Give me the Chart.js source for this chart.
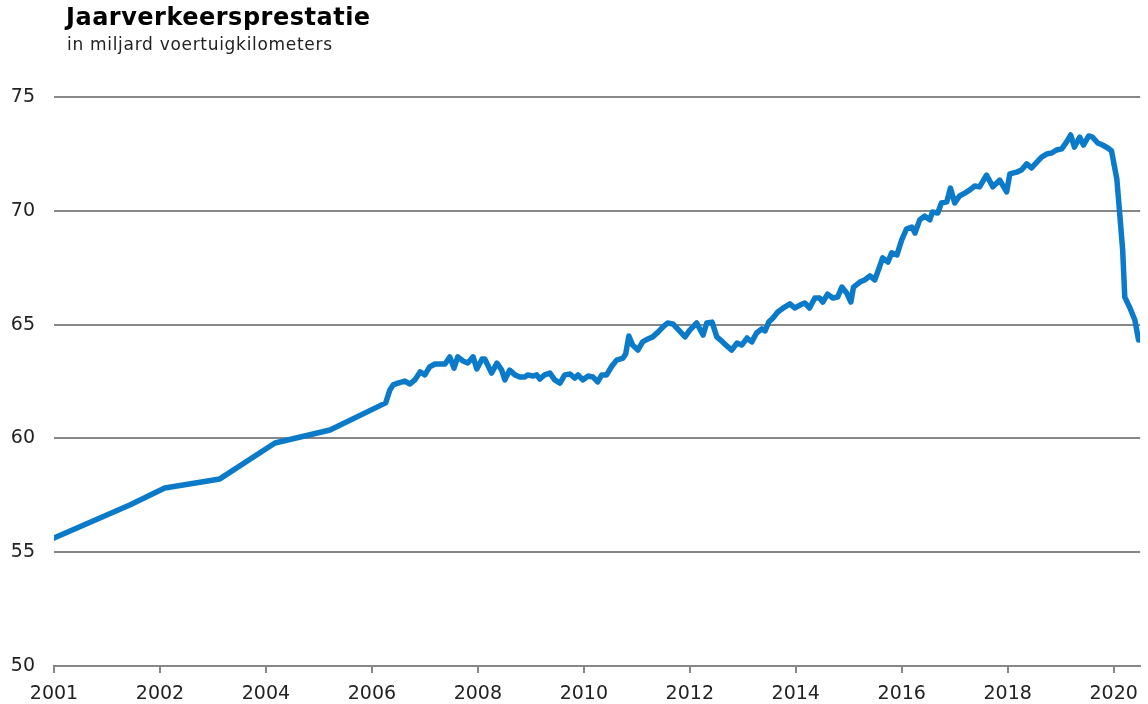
<!DOCTYPE html>
<html>
<head>
<meta charset="utf-8">
<script src="https://cdn.jsdelivr.net/npm/chart.js@4/dist/chart.umd.min.js"></script>
<style>
    body { margin: 0; background: #fff; font-family: "DejaVu Sans", Verdana, sans-serif; }
    #wrap { position: relative; width: 1148px; height: 704px; }
    #title { position: absolute; left: 66px; top: 3px; font-size: 24px; font-weight: bold; letter-spacing: 0.5px; color: #000; }
    #subtitle { position: absolute; left: 67px; top: 34px; font-size: 17px; letter-spacing: 0.7px; color: #222; }
    canvas { position: absolute; left: 0; top: 0; }
</style>
</head>
<body>
<div id="wrap">
    <canvas id="chart" width="1148" height="704"></canvas>
    <div id="title">Jaarverkeersprestatie</div>
    <div id="subtitle">in miljard voertuigkilometers</div>
</div>
<script>
// x positions (axis units, tick "2001" sits at 2000) and values in miljard km
const years = [
    2000.00, 2001.43, 2002.09, 2003.13, 2004.17, 2005.21, 2006.26, 2006.34, 2006.40, 2006.49,
    2006.62, 2006.72, 2006.81, 2006.91, 2007.00, 2007.09, 2007.19, 2007.38, 2007.47, 2007.55,
    2007.62, 2007.72, 2007.81, 2007.91, 2007.98, 2008.08, 2008.13, 2008.26, 2008.36, 2008.45,
    2008.51, 2008.60, 2008.70, 2008.79, 2008.89, 2008.94, 2009.04, 2009.11, 2009.17, 2009.26,
    2009.36, 2009.45, 2009.55, 2009.64, 2009.74, 2009.83, 2009.89, 2009.98, 2010.08, 2010.17,
    2010.26, 2010.34, 2010.43, 2010.53, 2010.62, 2010.74, 2010.79, 2010.85, 2010.92, 2011.02,
    2011.11, 2011.21, 2011.30, 2011.40, 2011.49, 2011.58, 2011.68, 2011.77, 2011.91, 2012.00,
    2012.13, 2012.25, 2012.32, 2012.42, 2012.51, 2012.62, 2012.72, 2012.79, 2012.89, 2012.98,
    2013.08, 2013.17, 2013.26, 2013.36, 2013.42, 2013.49, 2013.57, 2013.66, 2013.79, 2013.89,
    2013.98, 2014.08, 2014.17, 2014.26, 2014.36, 2014.45, 2014.51, 2014.60, 2014.70, 2014.79,
    2014.87, 2014.96, 2015.04, 2015.09, 2015.21, 2015.30, 2015.40, 2015.49, 2015.58, 2015.64,
    2015.74, 2015.81, 2015.91, 2016.00, 2016.09, 2016.19, 2016.25, 2016.34, 2016.43, 2016.53,
    2016.58, 2016.68, 2016.75, 2016.85, 2016.92, 2017.00, 2017.09, 2017.19, 2017.28, 2017.38,
    2017.47, 2017.60, 2017.72, 2017.85, 2017.98, 2018.04, 2018.17, 2018.26, 2018.36, 2018.45,
    2018.55, 2018.64, 2018.74, 2018.83, 2018.92, 2019.02, 2019.11, 2019.19, 2019.26, 2019.36,
    2019.43, 2019.53, 2019.60, 2019.70, 2019.79, 2019.89, 2019.96, 2020.06, 2020.11, 2020.17,
    2020.21, 2020.30, 2020.40, 2020.47
];
const values = [
    55.62, 57.07, 57.82, 58.22, 59.80, 60.37, 61.56, 62.13, 62.35, 62.43,
    62.52, 62.39, 62.57, 62.92, 62.79, 63.14, 63.27, 63.27, 63.58, 63.09,
    63.58, 63.40, 63.31, 63.58, 63.05, 63.49, 63.49, 62.87, 63.31, 63.00,
    62.57, 63.00, 62.79, 62.70, 62.70, 62.79, 62.74, 62.79, 62.61, 62.79,
    62.87, 62.57, 62.43, 62.79, 62.83, 62.65, 62.79, 62.57, 62.74, 62.70,
    62.48, 62.79, 62.79, 63.18, 63.44, 63.53, 63.71, 64.50, 64.10, 63.88,
    64.24, 64.37, 64.46, 64.67, 64.89, 65.07, 65.03, 64.81, 64.46, 64.76,
    65.07, 64.54, 65.07, 65.11, 64.46, 64.24, 64.02, 63.88, 64.19, 64.10,
    64.41, 64.24, 64.63, 64.81, 64.72, 65.11, 65.29, 65.55, 65.77, 65.91,
    65.73, 65.86, 65.95, 65.73, 66.17, 66.17, 65.99, 66.34, 66.17, 66.21,
    66.65, 66.39, 65.99, 66.65, 66.87, 66.96, 67.14, 66.96, 67.53, 67.93,
    67.75, 68.15, 68.06, 68.72, 69.20, 69.29, 69.02, 69.60, 69.77, 69.60,
    69.95, 69.90, 70.34, 70.39, 71.00, 70.34, 70.65, 70.78, 70.91, 71.09,
    71.05, 71.57, 71.05, 71.35, 70.83, 71.62, 71.70, 71.79, 72.06, 71.88,
    72.14, 72.36, 72.50, 72.54, 72.67, 72.72, 73.02, 73.33, 72.80, 73.24,
    72.89, 73.29, 73.24, 72.98, 72.89, 72.76, 72.63, 71.40, 70.00, 68.28,
    66.21, 65.77, 65.20, 64.32
];
const tickYears = [2000, 2002, 2004, 2006, 2008, 2010, 2012, 2014, 2016, 2018, 2020];
const tickLabels = ['2001', '2002', '2004', '2006', '2008', '2010', '2012', '2014', '2016', '2018', '2020'];

const gridGray = '#878787';
const lineBlue = '#0b7bc9';

const ctx = document.getElementById('chart').getContext('2d');
const chart = new Chart(ctx, {
    type: 'line',
    data: {
        datasets: [{
            data: years.map((y, i) => ({ x: y, y: values[i] })),
            borderColor: lineBlue,
            borderWidth: 5.5,
            pointRadius: 0,
            tension: 0,
            borderJoinStyle: 'round',
            borderCapStyle: 'round',
            fill: false
        }]
    },
    options: {
        responsive: false,
        animation: false,
        layout: { padding: { top: 97, right: 7, left: 0, bottom: 0 } },
        plugins: { legend: { display: false }, tooltip: { enabled: false } },
        scales: {
            x: {
                type: 'linear',
                min: 2000,
                max: 2020.5,
                afterBuildTicks: (scale) => { scale.ticks = tickYears.map(v => ({ value: v })); },
                afterFit: (scale) => { scale.height = 38; },
                ticks: {
                    autoSkip: false,
                    maxRotation: 0,
                    padding: 10,
                    color: '#222',
                    font: { family: 'DejaVu Sans', size: 19 },
                    callback: (v, i) => tickLabels[i]
                },
                grid: {
                    drawOnChartArea: false,
                    drawTicks: true,
                    tickLength: 7,
                    color: gridGray,
                    lineWidth: 2
                },
                border: { display: true, color: gridGray, width: 2 }
            },
            y: {
                min: 50,
                max: 75,
                afterFit: (scale) => { scale.width = 54; },
                ticks: {
                    stepSize: 5,
                    padding: 19,
                    color: '#222',
                    font: { family: 'DejaVu Sans', size: 19 }
                },
                grid: { drawTicks: false, color: gridGray, lineWidth: 2 },
                border: { display: false }
            }
        }
    }
});
</script>
</body>
</html>
